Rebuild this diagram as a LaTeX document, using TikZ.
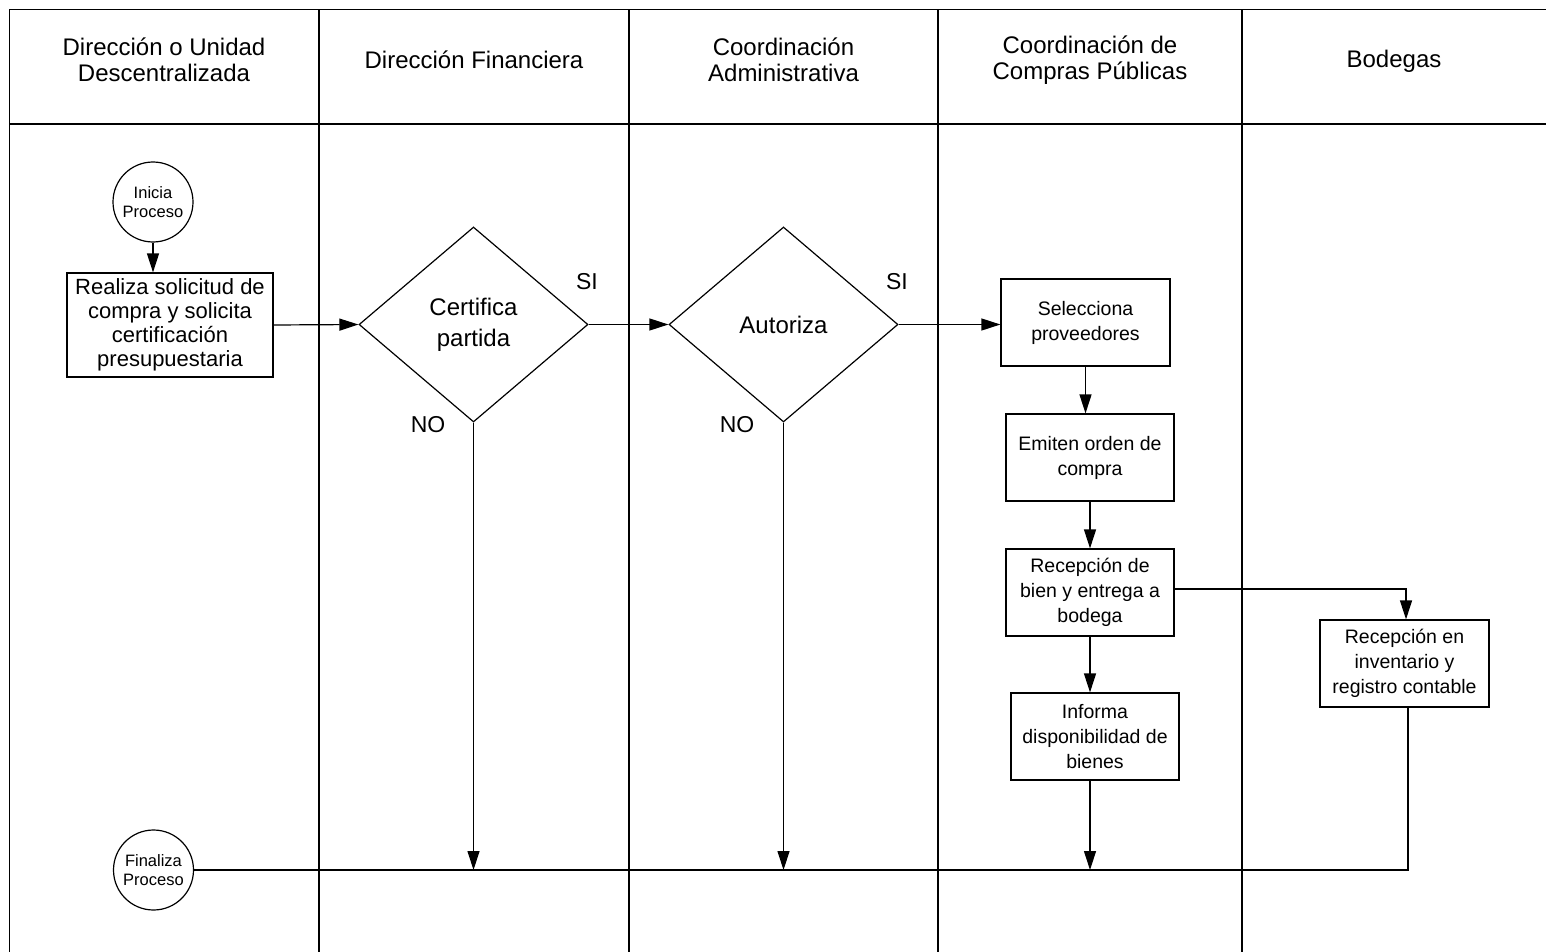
\documentclass[tikz,border=0pt]{standalone}
\usepackage{fontspec}
\setmainfont{Liberation Sans}
\usetikzlibrary{arrows.meta,shapes.geometric}
\newcommand\fHead{\fontsize{24}{26}\selectfont}
\newcommand\fDia{\fontsize{24}{31}\selectfont}
\newcommand\fBoxL{\fontsize{22}{24}\selectfont}
\newcommand\fBox{\fontsize{19.5}{25}\selectfont}
\newcommand\fCirc{\fontsize{16.5}{19}\selectfont}
\begin{document}
\begin{tikzpicture}[x=1pt,y=-1pt,
  grid/.style={line width=1.3pt, draw=black},
  proc/.style={draw, line width=1.2pt, align=center, inner sep=0pt, minimum width=168pt, minimum height=87pt, font=\fBox},
  decis/.style={draw, diamond, line width=1.2pt, align=center, inner sep=0pt, minimum width=229pt, minimum height=195pt, aspect=1.17, font=\fDia},
  term/.style={draw, circle, line width=1.2pt, align=center, inner sep=0pt, minimum size=80pt, font=\fCirc},
  hdr/.style={align=center, font=\fHead},
  lbl/.style={font=\fontsize{23}{26}\selectfont},
  link/.style={line width=1.2pt},
  arr/.style={link, -{Triangle[length=19pt,width=12pt]}}
]
\useasboundingbox (0,0) rectangle (1546,952);
% swimlane grid
\draw[grid] (9.5,952) -- (9.5,9.5) -- (1546,9.5);
\draw[grid] (9.5,124) -- (1546,124);
\foreach \xx in {319,629,938,1242} \draw[grid] (\xx,9.5) -- (\xx,952);
% headers
\node[hdr] (h1) at (164,60) {Dirección o Unidad\\Descentralizada};
\node[hdr] (h2) at (474,60) {Dirección Financiera};
\node[hdr] (h3) at (783.5,60) {Coordinación\\Administrativa};
\node[hdr] (h4) at (1090,60) {Coordinación de\\Compras Públicas};
\node[hdr] (h5) at (1394,61) {Bodegas};
% nodes
\node[term] (ini) at (153,202) {Inicia\\Proceso};
\node[proc, minimum width=206pt, minimum height=104pt, font=\fBoxL] (b1) at (170,325) {Realiza solicitud de\\compra y solicita\\certificación\\presupuestaria};
\node[decis] (d1) at (473.5,324.5) {\raisebox{-4pt}{\begin{tabular}{@{}c@{}}Certifica\\partida\end{tabular}}};
\node[decis] (d2) at (783.5,324.5) {Autoriza};
\node[proc, minimum width=169pt] (sel) at (1085.5,322.5) {Selecciona\\proveedores};
\node[proc] (emi) at (1090,457.5) {Emiten orden de\\compra};
\node[proc] (rec) at (1090,592.5) {Recepción de\\bien y entrega a\\bodega};
\node[proc] (inf) at (1095,736.5) {Informa\\disponibilidad de\\bienes};
\node[proc, minimum width=169pt] (inv) at (1404.5,663.5) {Recepción en\\inventario y\\registro contable};
\node[term] (fin) at (153.5,870) {Finaliza\\Proceso};
% labels
\node[lbl] (si1) at (587,282) {SI};
\node[lbl] (no1) at (428,425) {NO};
\node[lbl] (si2) at (897,282) {SI};
\node[lbl] (no2) at (737,425) {NO};
% connectors
\draw[arr] (ini.south) -- (ini.south |- b1.north);
\draw[arr] (b1.east) -- (d1.west);
\draw[arr] (d1.east) -- (d2.west);
\draw[arr] (d2.east) -- (d2.east -| sel.west);
\draw[arr] (sel.south) -- (sel.south |- emi.north);
\draw[arr] (emi.south) -- (rec.north);
\draw[arr] (rec.south) -- (rec.south |- inf.north);
\draw[arr] ([yshift=3.5pt]rec.east) -| ([xshift=1.5pt]inv.north);
\draw[link] ([xshift=3.5pt]inv.south) |- (fin.east);
\draw[arr] (d1.south) -- (d1.south |- fin.east);
\draw[arr] (d2.south) -- (d2.south |- fin.east);
\draw[arr] ([xshift=-5pt]inf.south) -- ([xshift=-5pt]inf.south |- fin.east);
\end{tikzpicture}
\end{document}
